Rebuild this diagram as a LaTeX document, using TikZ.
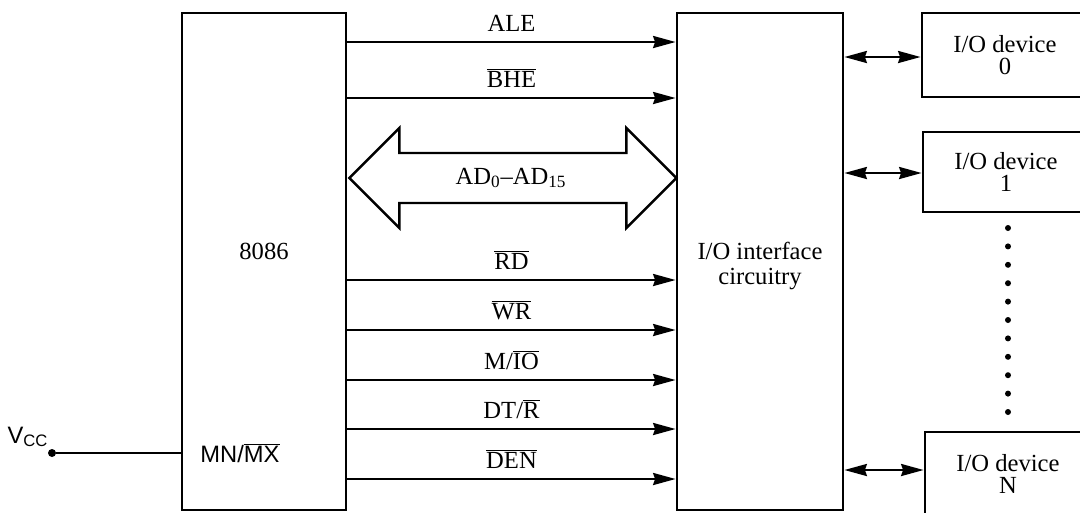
\documentclass[tikz,border=0pt]{standalone}
\usepackage{fontspec}
\setmainfont{Liberation Serif}
\setsansfont{Liberation Sans}
\usepackage{tikz}
\usetikzlibrary{arrows.meta, calc, positioning}

\newcommand{\sigbar}[1]{$\overline{\mbox{#1}}$}

\tikzset{
    block/.style={draw, line width=1.6pt, inner sep=0pt},
    device/.style={block, minimum width=3.32cm, minimum height=1.68cm, align=center, font=\fontsize{14}{13}\selectfont},
    sig/.style={->, line width=1.4pt},
    siglabel/.style={above=5pt, inner sep=0pt, text depth=0pt},
    bidir/.style={<->, line width=1.4pt},
}

\begin{document}
\begin{tikzpicture}[x=0.02cm, y=-0.02cm, font=\fontsize{14}{16}\selectfont,
    >={Stealth[length=0.45cm, width=0.24cm, inset=0.04cm]}]
    \useasboundingbox (0,0) rectangle (1080,512);
    \clip (0,0) rectangle (1080,512);

    % Khối 8086 và mạch giao tiếp
    \node[block, minimum width=3.28cm, minimum height=9.94cm] (cpu) at (264,261.5) {};
    \node[block, minimum width=3.32cm, minimum height=9.94cm] (iface) at (760,261.5) {};
    \node (cpuname) at (264,251) {8086};
    \node[align=center, font=\fontsize{14}{14}\selectfont] (ifacename) at (760,266) {I/O interface\\circuitry};
    \node[font=\sffamily\fontsize{13.5}{16}\selectfont] (mode) at (240,453) {MN/\sigbar{MX}};

    % Thiết bị vào/ra
    \node[device] (dev0) at (1005,55) {I/O device\\0};
    \node[device, minimum height=1.6cm] (dev1) at (1006,172) {I/O device\\1};
    \node[device] (devN) at (1008,474) {I/O device\\N};

    % Tín hiệu điều khiển
    \foreach \yy/\name in {42/ALE, 98/\sigbar{BHE}, 280/\sigbar{RD}, 330/\sigbar{WR},
        380/{M/\sigbar{IO}}, 429/{DT/\sigbar{R}}, 479/\sigbar{DEN}}
        \draw[sig] (cpu.east |- 0,\yy) -- (iface.west |- 0,\yy) node[midway, siglabel] {\name};

    % Bus địa chỉ/dữ liệu
    \draw[line width=1.4pt] ($(cpu.east |- 0,178)+(2,0)$) -- ++(50,-50) -- ++(0,25)
        -- ++(227,0) -- ++(0,-25) -- ++(50,50) -- ++(-50,50) -- ++(0,-25)
        -- ++(-227,0) -- ++(0,25) -- cycle;
    \node (adbus) at (511,178) {AD\textsubscript{0}--AD\textsubscript{15}};

    % Kết nối thiết bị
    \draw[bidir] (iface.east |- 0,57) -- (dev0.west |- 0,57);
    \draw[bidir] (iface.east |- 0,173) -- (dev1.west |- 0,173);
    \draw[bidir] (iface.east |- 0,470) -- (devN.west |- 0,470);

    % Dấu chấm
    \foreach \k in {0,...,10}
        \fill (1008,{228+18.4*\k}) circle[radius=0.06cm];

    % Vcc
    \node[circle, fill, inner sep=0pt, minimum size=0.16cm] (vcc) at (52,453) {};
    \node[font=\sffamily\fontsize{13.5}{16}\selectfont] (vcclabel) at (28,437) {V\textsubscript{CC}};
    \draw[line width=1.2pt] (vcc) -- (cpu.west |- vcc);
\end{tikzpicture}
\end{document}
